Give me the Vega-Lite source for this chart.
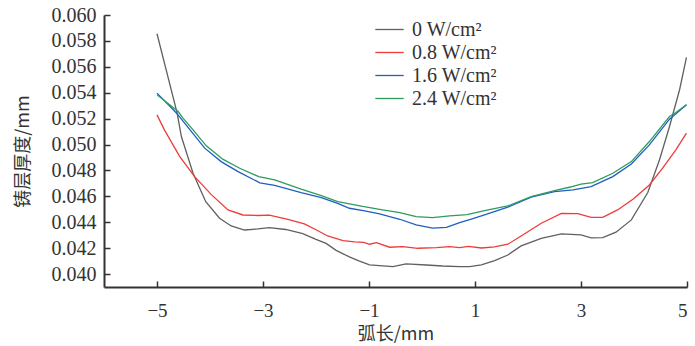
{
  "$schema": "https://vega.github.io/schema/vega-lite/v6.json",
  "width": 583,
  "height": 272,
  "autosize": "none",
  "padding": {"left": 104, "top": 15, "right": 8, "bottom": 59},
  "background": "white",
  "config": {
    "view": {"stroke": null},
    "font": "Liberation Serif, serif"
  },
  "data": {
    "values": [
      {"x": -5.0, "y": 0.05855, "s": "0 W/cm²"},
      {"x": -4.62, "y": 0.05243, "s": "0 W/cm²"},
      {"x": -4.54, "y": 0.05062, "s": "0 W/cm²"},
      {"x": -4.32, "y": 0.04779, "s": "0 W/cm²"},
      {"x": -4.08, "y": 0.04559, "s": "0 W/cm²"},
      {"x": -3.82, "y": 0.04431, "s": "0 W/cm²"},
      {"x": -3.6, "y": 0.04371, "s": "0 W/cm²"},
      {"x": -3.35, "y": 0.0434, "s": "0 W/cm²"},
      {"x": -3.1, "y": 0.04348, "s": "0 W/cm²"},
      {"x": -2.88, "y": 0.04358, "s": "0 W/cm²"},
      {"x": -2.57, "y": 0.04344, "s": "0 W/cm²"},
      {"x": -2.25, "y": 0.04312, "s": "0 W/cm²"},
      {"x": -2.0, "y": 0.04268, "s": "0 W/cm²"},
      {"x": -1.81, "y": 0.04237, "s": "0 W/cm²"},
      {"x": -1.62, "y": 0.04183, "s": "0 W/cm²"},
      {"x": -1.37, "y": 0.04132, "s": "0 W/cm²"},
      {"x": -1.18, "y": 0.041, "s": "0 W/cm²"},
      {"x": -0.99, "y": 0.0407, "s": "0 W/cm²"},
      {"x": -0.55, "y": 0.04057, "s": "0 W/cm²"},
      {"x": -0.3, "y": 0.04078, "s": "0 W/cm²"},
      {"x": 0.08, "y": 0.0407, "s": "0 W/cm²"},
      {"x": 0.39, "y": 0.04062, "s": "0 W/cm²"},
      {"x": 0.71, "y": 0.04057, "s": "0 W/cm²"},
      {"x": 0.9, "y": 0.04057, "s": "0 W/cm²"},
      {"x": 1.12, "y": 0.0407, "s": "0 W/cm²"},
      {"x": 1.37, "y": 0.04103, "s": "0 W/cm²"},
      {"x": 1.62, "y": 0.04147, "s": "0 W/cm²"},
      {"x": 1.87, "y": 0.04217, "s": "0 W/cm²"},
      {"x": 2.25, "y": 0.04276, "s": "0 W/cm²"},
      {"x": 2.63, "y": 0.0431, "s": "0 W/cm²"},
      {"x": 3.0, "y": 0.04302, "s": "0 W/cm²"},
      {"x": 3.19, "y": 0.04279, "s": "0 W/cm²"},
      {"x": 3.41, "y": 0.04281, "s": "0 W/cm²"},
      {"x": 3.66, "y": 0.04323, "s": "0 W/cm²"},
      {"x": 3.95, "y": 0.04418, "s": "0 W/cm²"},
      {"x": 4.26, "y": 0.04629, "s": "0 W/cm²"},
      {"x": 4.48, "y": 0.04881, "s": "0 W/cm²"},
      {"x": 4.67, "y": 0.05139, "s": "0 W/cm²"},
      {"x": 4.86, "y": 0.05423, "s": "0 W/cm²"},
      {"x": 4.99, "y": 0.05672, "s": "0 W/cm²"},

      {"x": -5.0, "y": 0.05229, "s": "0.8 W/cm²"},
      {"x": -4.86, "y": 0.05113, "s": "0.8 W/cm²"},
      {"x": -4.57, "y": 0.04907, "s": "0.8 W/cm²"},
      {"x": -4.29, "y": 0.04752, "s": "0.8 W/cm²"},
      {"x": -3.97, "y": 0.04611, "s": "0.8 W/cm²"},
      {"x": -3.66, "y": 0.04495, "s": "0.8 W/cm²"},
      {"x": -3.38, "y": 0.04456, "s": "0.8 W/cm²"},
      {"x": -3.1, "y": 0.04452, "s": "0.8 W/cm²"},
      {"x": -2.88, "y": 0.04455, "s": "0.8 W/cm²"},
      {"x": -2.53, "y": 0.04423, "s": "0.8 W/cm²"},
      {"x": -2.22, "y": 0.04387, "s": "0.8 W/cm²"},
      {"x": -1.99, "y": 0.0434, "s": "0.8 W/cm²"},
      {"x": -1.78, "y": 0.04294, "s": "0.8 W/cm²"},
      {"x": -1.49, "y": 0.04258, "s": "0.8 W/cm²"},
      {"x": -1.27, "y": 0.04248, "s": "0.8 W/cm²"},
      {"x": -1.1, "y": 0.04244, "s": "0.8 W/cm²"},
      {"x": -0.99, "y": 0.0423, "s": "0.8 W/cm²"},
      {"x": -0.86, "y": 0.04242, "s": "0.8 W/cm²"},
      {"x": -0.61, "y": 0.04207, "s": "0.8 W/cm²"},
      {"x": -0.36, "y": 0.04211, "s": "0.8 W/cm²"},
      {"x": -0.08, "y": 0.04199, "s": "0.8 W/cm²"},
      {"x": 0.27, "y": 0.04204, "s": "0.8 W/cm²"},
      {"x": 0.52, "y": 0.04211, "s": "0.8 W/cm²"},
      {"x": 0.71, "y": 0.04204, "s": "0.8 W/cm²"},
      {"x": 0.88, "y": 0.04213, "s": "0.8 W/cm²"},
      {"x": 1.12, "y": 0.04201, "s": "0.8 W/cm²"},
      {"x": 1.37, "y": 0.04209, "s": "0.8 W/cm²"},
      {"x": 1.62, "y": 0.0423, "s": "0.8 W/cm²"},
      {"x": 1.87, "y": 0.04294, "s": "0.8 W/cm²"},
      {"x": 2.25, "y": 0.04392, "s": "0.8 W/cm²"},
      {"x": 2.63, "y": 0.04469, "s": "0.8 W/cm²"},
      {"x": 2.94, "y": 0.04467, "s": "0.8 W/cm²"},
      {"x": 3.19, "y": 0.04438, "s": "0.8 W/cm²"},
      {"x": 3.41, "y": 0.04438, "s": "0.8 W/cm²"},
      {"x": 3.69, "y": 0.04495, "s": "0.8 W/cm²"},
      {"x": 3.98, "y": 0.04578, "s": "0.8 W/cm²"},
      {"x": 4.29, "y": 0.04688, "s": "0.8 W/cm²"},
      {"x": 4.54, "y": 0.04817, "s": "0.8 W/cm²"},
      {"x": 4.79, "y": 0.04959, "s": "0.8 W/cm²"},
      {"x": 4.99, "y": 0.05088, "s": "0.8 W/cm²"},

      {"x": -5.0, "y": 0.05397, "s": "1.6 W/cm²"},
      {"x": -4.63, "y": 0.05242, "s": "1.6 W/cm²"},
      {"x": -4.35, "y": 0.051, "s": "1.6 W/cm²"},
      {"x": -4.1, "y": 0.04972, "s": "1.6 W/cm²"},
      {"x": -3.79, "y": 0.04868, "s": "1.6 W/cm²"},
      {"x": -3.47, "y": 0.04791, "s": "1.6 W/cm²"},
      {"x": -3.06, "y": 0.04704, "s": "1.6 W/cm²"},
      {"x": -2.78, "y": 0.04684, "s": "1.6 W/cm²"},
      {"x": -2.28, "y": 0.04628, "s": "1.6 W/cm²"},
      {"x": -1.9, "y": 0.0459, "s": "1.6 W/cm²"},
      {"x": -1.59, "y": 0.04545, "s": "1.6 W/cm²"},
      {"x": -1.37, "y": 0.04508, "s": "1.6 W/cm²"},
      {"x": -1.08, "y": 0.04487, "s": "1.6 W/cm²"},
      {"x": -0.8, "y": 0.04464, "s": "1.6 W/cm²"},
      {"x": -0.42, "y": 0.04423, "s": "1.6 W/cm²"},
      {"x": -0.11, "y": 0.04379, "s": "1.6 W/cm²"},
      {"x": 0.2, "y": 0.04354, "s": "1.6 W/cm²"},
      {"x": 0.46, "y": 0.04361, "s": "1.6 W/cm²"},
      {"x": 0.71, "y": 0.04397, "s": "1.6 W/cm²"},
      {"x": 0.9, "y": 0.0442, "s": "1.6 W/cm²"},
      {"x": 1.18, "y": 0.04456, "s": "1.6 W/cm²"},
      {"x": 1.62, "y": 0.04516, "s": "1.6 W/cm²"},
      {"x": 2.06, "y": 0.04593, "s": "1.6 W/cm²"},
      {"x": 2.5, "y": 0.04636, "s": "1.6 W/cm²"},
      {"x": 2.85, "y": 0.0465, "s": "1.6 W/cm²"},
      {"x": 3.19, "y": 0.04675, "s": "1.6 W/cm²"},
      {"x": 3.6, "y": 0.04752, "s": "1.6 W/cm²"},
      {"x": 3.95, "y": 0.0485, "s": "1.6 W/cm²"},
      {"x": 4.29, "y": 0.04997, "s": "1.6 W/cm²"},
      {"x": 4.67, "y": 0.05196, "s": "1.6 W/cm²"},
      {"x": 4.99, "y": 0.05307, "s": "1.6 W/cm²"},

      {"x": -5.0, "y": 0.05384, "s": "2.4 W/cm²"},
      {"x": -4.6, "y": 0.05255, "s": "2.4 W/cm²"},
      {"x": -4.51, "y": 0.05204, "s": "2.4 W/cm²"},
      {"x": -4.32, "y": 0.05113, "s": "2.4 W/cm²"},
      {"x": -4.07, "y": 0.0499, "s": "2.4 W/cm²"},
      {"x": -3.76, "y": 0.04887, "s": "2.4 W/cm²"},
      {"x": -3.44, "y": 0.04817, "s": "2.4 W/cm²"},
      {"x": -3.08, "y": 0.04752, "s": "2.4 W/cm²"},
      {"x": -2.78, "y": 0.04727, "s": "2.4 W/cm²"},
      {"x": -2.28, "y": 0.04655, "s": "2.4 W/cm²"},
      {"x": -1.9, "y": 0.04605, "s": "2.4 W/cm²"},
      {"x": -1.59, "y": 0.04559, "s": "2.4 W/cm²"},
      {"x": -1.12, "y": 0.04522, "s": "2.4 W/cm²"},
      {"x": -0.8, "y": 0.045, "s": "2.4 W/cm²"},
      {"x": -0.42, "y": 0.04474, "s": "2.4 W/cm²"},
      {"x": -0.11, "y": 0.04443, "s": "2.4 W/cm²"},
      {"x": 0.2, "y": 0.04435, "s": "2.4 W/cm²"},
      {"x": 0.52, "y": 0.04449, "s": "2.4 W/cm²"},
      {"x": 0.85, "y": 0.04459, "s": "2.4 W/cm²"},
      {"x": 1.18, "y": 0.0449, "s": "2.4 W/cm²"},
      {"x": 1.62, "y": 0.04526, "s": "2.4 W/cm²"},
      {"x": 2.06, "y": 0.04598, "s": "2.4 W/cm²"},
      {"x": 2.5, "y": 0.04644, "s": "2.4 W/cm²"},
      {"x": 2.8, "y": 0.04672, "s": "2.4 W/cm²"},
      {"x": 3.0, "y": 0.04694, "s": "2.4 W/cm²"},
      {"x": 3.22, "y": 0.04706, "s": "2.4 W/cm²"},
      {"x": 3.6, "y": 0.04778, "s": "2.4 W/cm²"},
      {"x": 3.95, "y": 0.04868, "s": "2.4 W/cm²"},
      {"x": 4.29, "y": 0.05023, "s": "2.4 W/cm²"},
      {"x": 4.67, "y": 0.05216, "s": "2.4 W/cm²"},
      {"x": 4.79, "y": 0.05247, "s": "2.4 W/cm²"},
      {"x": 4.99, "y": 0.05307, "s": "2.4 W/cm²"}
    ]
  },
  "mark": {"type": "line", "strokeWidth": 1.3, "clip": true},
  "encoding": {
    "x": {
      "field": "x",
      "type": "quantitative",
      "scale": {"domain": [-6, 5], "nice": false, "zero": false},
      "axis": {
        "values": [-5, -3, -1, 1, 3, 5],
        "title": "弧长/mm",
        "grid": false,
        "domainColor": "#333333",
        "domainWidth": 2,
        "tickColor": "#333333",
        "tickWidth": 1.5,
        "tickSize": -6,
        "labelPadding": 20,
        "labelFont": "Liberation Serif, serif",
        "labelFontSize": 19,
        "labelColor": "#333333",
        "titleFont": "Noto Sans CJK SC",
        "titleFontSize": 18,
        "titleFontWeight": "normal",
        "titleColor": "#333333",
        "titlePadding": 5
      }
    },
    "y": {
      "field": "y",
      "type": "quantitative",
      "scale": {"domain": [0.039, 0.06], "nice": false, "zero": false},
      "axis": {
        "values": [0.04, 0.042, 0.044, 0.046, 0.048, 0.05, 0.052, 0.054, 0.056, 0.058, 0.06],
        "format": ".3f",
        "title": "铸层厚度/mm",
        "grid": false,
        "domainColor": "#333333",
        "domainWidth": 2,
        "tickColor": "#333333",
        "tickWidth": 1.5,
        "tickSize": -6,
        "labelPadding": 14,
        "labelFont": "Liberation Serif, serif",
        "labelFontSize": 20,
        "labelColor": "#333333",
        "titleFont": "Noto Sans CJK SC",
        "titleFontSize": 18,
        "titleFontWeight": "normal",
        "titleColor": "#333333",
        "titleX": -72,
        "titleY": 136
      }
    },
    "color": {
      "field": "s",
      "type": "nominal",
      "sort": ["0 W/cm²", "0.8 W/cm²", "1.6 W/cm²", "2.4 W/cm²"],
      "scale": {
        "domain": ["0 W/cm²", "0.8 W/cm²", "1.6 W/cm²", "2.4 W/cm²"],
        "range": ["#606060", "#ee3b3b", "#1f5fc2", "#2e9b5e"]
      },
      "legend": {
        "title": null,
        "orient": "none",
        "legendX": 273,
        "legendY": 2,
        "padding": 0,
        "symbolType": "M-1.2,0H1.2",
        "symbolSize": 560,
        "symbolStrokeWidth": 1.3,
        "labelOffset": 10,
        "rowPadding": 0,
        "labelFont": "Liberation Serif, serif",
        "labelFontSize": 20,
        "labelColor": "#333333"
      }
    }
  }
}
